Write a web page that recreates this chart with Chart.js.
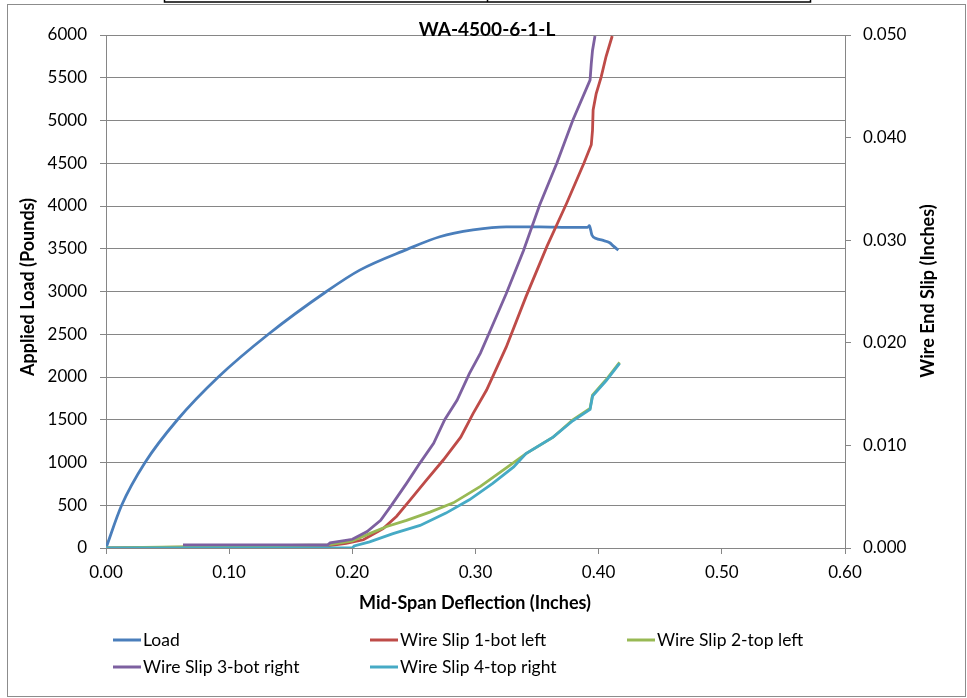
<!DOCTYPE html>
<html>
<head>
<meta charset="utf-8">
<script src="https://cdn.jsdelivr.net/npm/chart.js@4"></script>
<style>
  body { margin: 0; background: #fff; }
  #wrap { position: relative; width: 967px; height: 698px; }
</style>
</head>
<body>
<div id="wrap"><canvas id="slipChart" width="967" height="698"></canvas></div>
<script>
// Load vs deflection (left axis, pounds)
const loadX = [0, 0.0127, 0.0317, 0.058, 0.0912, 0.1318, 0.179, 0.206, 0.244, 0.271, 0.298, 0.325, 0.352, 0.379, 0.391, 0.3925, 0.3935, 0.3945, 0.398, 0.403, 0.409, 0.412, 0.416];
const loadY = [0, 500, 1000, 1500, 2000, 2500, 3000, 3250, 3490, 3640, 3720, 3757, 3757, 3750, 3750, 3770, 3720, 3660, 3620, 3600, 3570, 3530, 3485];

// Wire end slips (right axis, inches)
const slip1X = [0, 0.18, 0.195, 0.209, 0.225, 0.236, 0.247, 0.260, 0.274, 0.288, 0.298, 0.309, 0.325, 0.341, 0.358, 0.374, 0.388, 0.394, 0.395, 0.3955, 0.398, 0.402, 0.406, 0.411];
const slip1Y = [0, 0.0002, 0.00046, 0.0008, 0.0019, 0.0031, 0.0047, 0.0066, 0.0086, 0.0108, 0.0131, 0.0154, 0.0196, 0.0245, 0.0294, 0.0336, 0.0375, 0.0393, 0.0407, 0.0427, 0.0443, 0.0459, 0.0479, 0.0499];

const slip2X = [0, 0.18, 0.20, 0.214, 0.228, 0.244, 0.263, 0.282, 0.304, 0.325, 0.341, 0.363, 0.379, 0.393, 0.395, 0.406, 0.417];
const slip2Y = [0, 0.0003, 0.0007, 0.0014, 0.0021, 0.0027, 0.0035, 0.0044, 0.0060, 0.0078, 0.0092, 0.0108, 0.0125, 0.0136, 0.0149, 0.0164, 0.0181];

const slip3X = [0.0625, 0.18, 0.182, 0.20, 0.212, 0.223, 0.232, 0.244, 0.255, 0.266, 0.275, 0.285, 0.295, 0.304, 0.312, 0.325, 0.339, 0.352, 0.366, 0.379, 0.393, 0.394, 0.395, 0.397];
const slip3Y = [0.0003, 0.0003, 0.0005, 0.00085, 0.0016, 0.0027, 0.0042, 0.0063, 0.0083, 0.0102, 0.0125, 0.0144, 0.0170, 0.0190, 0.0212, 0.0248, 0.0290, 0.0334, 0.0375, 0.0417, 0.0456, 0.0472, 0.0485, 0.0499];

const slip4X = [0, 0.20, 0.2015, 0.214, 0.233, 0.255, 0.276, 0.295, 0.314, 0.331, 0.341, 0.363, 0.379, 0.393, 0.395, 0.406, 0.417];
const slip4Y = [0, 0, 0.0002, 0.0006, 0.0014, 0.0022, 0.0034, 0.0047, 0.0063, 0.0079, 0.0092, 0.0108, 0.0124, 0.0135, 0.0148, 0.0163, 0.0180];

const seriesNames = ['Load', 'Wire Slip 1-bot left', 'Wire Slip 2-top left', 'Wire Slip 3-bot right', 'Wire Slip 4-top right'];
const seriesColors = ['#4A7EBB', '#BE4B48', '#98B954', '#7D60A0', '#46AAC5'];

const chartTitle = 'WA-4500-6-1-L';
const xTitle = 'Mid-Span Deflection (Inches)';
const yTitle = 'Applied Load (Pounds)';
const y2Title = 'Wire End Slip (Inches)';

function pts(xs, ys) {
  return xs.map((x, i) => ({ x: x, y: ys[i] }));
}

const FONT = 'Lato, "Open Sans", sans-serif';
const GRID = '#868686';

Chart.defaults.color = '#000';
Chart.defaults.font.family = FONT;
Chart.defaults.font.size = 17;

function makeSet(i, data, axis, order, smooth) {
  return {
    label: seriesNames[i],
    data: data,
    yAxisID: axis,
    borderColor: seriesColors[i],
    backgroundColor: seriesColors[i],
    borderWidth: 2.8,
    pointRadius: 0,
    showLine: true,
    cubicInterpolationMode: smooth ? 'monotone' : 'default',
    tension: 0,
    order: order
  };
}

// titles, frame, legend
const decor = {
  id: 'decor',
  afterDraw(chart) {
    const c = chart.ctx;
    c.save();
    // outer frame
    c.strokeStyle = '#8c8c8c';
    c.lineWidth = 1;
    c.strokeRect(7.5, 4.5, 958, 692);
    // cut-off box at top
    c.strokeStyle = '#000';
    c.lineWidth = 1.5;
    c.strokeRect(164.5, -5, 646, 7);
    c.beginPath();
    c.moveTo(487.5, 0);
    c.lineTo(487.5, 2);
    c.stroke();

    c.fillStyle = '#000';
    c.textAlign = 'center';
    c.textBaseline = 'middle';
    c.font = 'bold 19px ' + FONT;
    c.fillText(chartTitle, 487, 30);
    c.font = 'bold 18px ' + FONT;
    c.fillText(xTitle, 475, 603);

    c.save();
    c.translate(28, 287);
    c.rotate(-Math.PI / 2);
    c.fillText(yTitle, 0, 0);
    c.restore();

    c.save();
    c.translate(928, 291);
    c.rotate(-Math.PI / 2);
    c.fillText(y2Title, 0, 0);
    c.restore();

    // legend grid, 3 columns
    c.font = '17.5px ' + FONT;
    c.textAlign = 'left';
    chart.data.datasets.forEach((ds, i) => {
      const col = i % 3, row = Math.floor(i / 3);
      const x = 113 + col * 257;
      const y = 640 + row * 27;
      c.strokeStyle = ds.borderColor;
      c.lineWidth = 3;
      c.beginPath();
      c.moveTo(x, y);
      c.lineTo(x + 28, y);
      c.stroke();
      c.fillText(ds.label, x + 30, y);
    });
    c.restore();
  }
};

new Chart(document.getElementById('slipChart').getContext('2d'), {
  type: 'scatter',
  data: {
    datasets: [
      makeSet(0, pts(loadX, loadY), 'y', 5, true),
      makeSet(1, pts(slip1X, slip1Y), 'y2', 4, false),
      makeSet(2, pts(slip2X, slip2Y), 'y2', 3, false),
      makeSet(3, pts(slip3X, slip3Y), 'y2', 2, false),
      makeSet(4, pts(slip4X, slip4Y), 'y2', 1, false)
    ]
  },
  options: {
    responsive: false,
    animation: false,
    layout: { padding: { top: 35, left: 0, right: 0, bottom: 0 } },
    plugins: {
      legend: { display: false },
      tooltip: { enabled: false }
    },
    scales: {
      x: {
        type: 'linear',
        min: 0,
        max: 0.6,
        ticks: { stepSize: 0.1, padding: 8, maxRotation: 0, callback: v => v.toFixed(2) },
        grid: { drawOnChartArea: false, tickLength: 6, color: GRID },
        border: { color: GRID },
        afterFit: s => { s.height = 150; }
      },
      y: {
        position: 'left',
        min: 0,
        max: 6000,
        ticks: { stepSize: 500, padding: 13, callback: v => String(v) },
        grid: { color: GRID, tickLength: 6 },
        border: { color: GRID },
        afterFit: s => { s.width = 106; }
      },
      y2: {
        position: 'right',
        min: 0,
        max: 0.05,
        ticks: { stepSize: 0.01, padding: 12, callback: v => v.toFixed(3) },
        grid: { drawOnChartArea: false, tickLength: 6, color: GRID },
        border: { color: GRID },
        afterFit: s => { s.width = 122; }
      }
    }
  },
  plugins: [decor]
});
</script>
</body>
</html>
